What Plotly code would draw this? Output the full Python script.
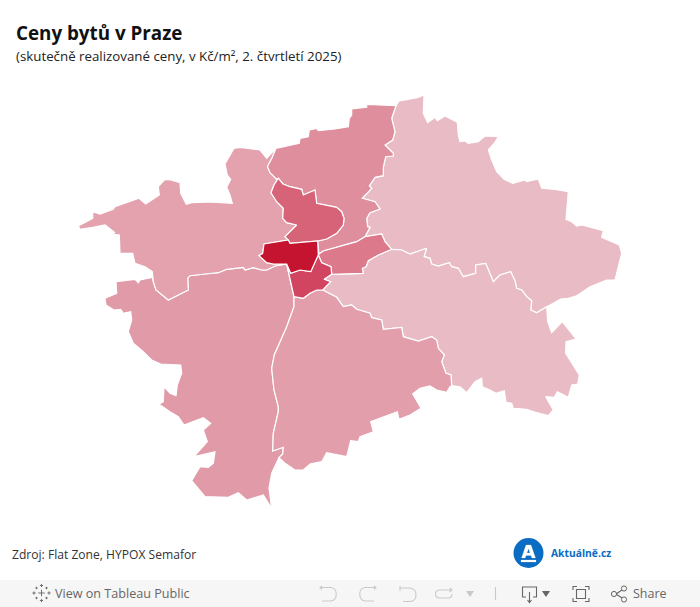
import plotly.graph_objects as go

# Shared district borders (map units)
EDGE_WEST_OUTER = [(78.3,226),(92.7,218.3),(92.7,211.7),(100,214),(113.3,209.3),(115,206.7),(139,198.3),(145.7,204),(159.3,195),(158.3,186.7),(165,179.3),(171,180),(180,182.7),(180.7,193.3),(186.3,204.3),(191.7,202.7),(210,202),(232.3,203.3),(230,195),(226.7,187.3),(230.7,179.3),(227.3,175),(225,164),(227.7,159.3),(234,148.3),(240,147.3),(251.7,149.3),(260,150),(266.7,158.3),(276,148.3)]
EDGE_WEST_NORTH = [(276,148.3),(272,158),(267.5,166.5),(270,172.7),(276.7,179.3)]
EDGE_NORTH_TOP = [(276,148.3),(299.3,143.3),(300,138.3),(308.3,136.7),(309.3,130),(316.7,128.3),(318.3,130.7),(335,129),(348.3,126.7),(349.3,118.3),(351.7,115),(351.7,109),(366.7,107.3),(366.7,104.3),(396,105.7)]
EDGE_NORTH_EAST = [(396,105.7),(391.7,118.3),(395,131.7),(392.7,140),(385,145),(393.3,153.3),(393.3,156),(385.7,156.7),(383.3,167.3),(383.3,175.7),(375,177.3),(369.3,186),(371.7,188.3),(362.3,198.3),(375,201.7),(380,209),(370,212.7),(366.7,218.3),(367.7,226.7),(370,227.3),(365,236.7)]
EDGE_NORTH_MID = [(365,236.7),(356.7,241.7),(323.3,251),(319,254),(317.7,241)]
EDGE_DARK_EAST = [(317.7,241),(326.7,239),(336.7,233.3),(343.3,225),(344,218.3),(341.7,211.7),(336.7,207.3),(326.7,205),(316.7,203.3),(315,190),(303.3,195),(301.7,189.3),(290,186.7),(283,184),(278.3,178.3)]
EDGE_DARK_WEST = [(278.3,178.3),(274,185),(271,192.7),(276.7,201.7),(283.3,208.3),(282.7,218.3),(286.7,222.7),(296.7,225),(285,236.7),(288.3,240)]
EDGE_CENTER_TOP = [(264,244),(288.3,240),(290,243.3),(317.7,241)]
EDGE_CENTER_WEST = [(264,244),(262.7,253.3),(259,255.7),(266.7,262.7),(273.3,264),(286.7,264)]
EDGE_CENTER_SOUTH = [(286.7,264),(290.7,273.3),(300,270),(310.7,271.7),(318.3,255),(317.7,241)]
EDGE_WEST_SW = [(286.7,264),(275,266),(266.7,270),(261.7,270),(253.3,267.7),(245,270),(243.3,267.3),(226.7,269.3),(218.3,272.7),(205,274),(190,275.7),(187.7,278.3),(188.3,290),(168.3,300),(156,290),(153.3,281.7),(152.3,271.7)]
EDGE_WEST_TAIL = [(152.3,271.7),(145,266.7),(135,263.3),(132.7,253.3),(120,253.3),(119.3,235),(111.7,234),(115,232.7),(105,225),(92.7,227.3),(80,229.3)]
EDGE_RED_WEST = [(286.7,264),(288.3,271.7),(294,296.7)]
EDGE_RED_SOUTH = [(294,296.7),(303.3,298.3),(310,293.3),(316.7,290),(322.7,290),(330.7,281.7),(324,279.3),(331.7,274.3)]
EDGE_RED_MID = [(331.7,274.3),(331,266.7),(321.7,262.7),(318.3,255)]
EDGE_MID_TOP = [(319,254),(323.3,251),(356.7,241.7),(365,236.7),(381.7,234),(385,241.7),(391.7,249.3)]
EDGE_MID_SOUTH = [(391.7,249.3),(378.3,255),(368.3,260.7),(366,266.7),(362.3,268.3),(363.3,273.3),(331.7,274.3)]
EDGE_EAST_OUTER = [(396,105.7),(399,101),(408.3,99.3),(418.3,97.3),(424,95),(423.3,113.3),(427.7,122.7),(435,117.3),(437.3,120.7),(445,116),(457.3,122.3),(458.3,135),(460,141.7),(465,141),(468.3,143.3),(478.3,141.7),(485,136),(498.3,136.7),(495,142.3),(488.3,150),(491.7,160),(496.7,171.7),(504,179.3),(512.7,183.3),(525,180),(526.7,181.7),(538.3,179),(541.7,188.3),(555,189.3),(568.3,191.7),(566,219.3),(571.7,221.7),(576.7,226),(581.7,225),(603.3,230.7),(601.7,237.3),(619.3,245),(621.7,253.3),(615,280),(606.7,280),(590,286.7),(576.7,295.7),(568.3,298.3),(560.7,299),(553.3,303.3),(546.7,306.7)]
EDGE_EAST_SE = [(546.7,306.7),(536.7,312.7),(530.7,310),(531.7,300.7),(526.7,296.7),(521.7,290),(516.7,288.3),(515,280.7),(510.7,271.7),(500,275),(493.3,281.7),(485.7,263.3),(475.7,265),(475.7,273.3),(463.3,276.7),(458.3,268.3),(451.7,266.7),(449.3,262.7),(438.3,266),(431.7,264),(430,258.3),(424,256.7),(426.7,248.3),(410,254),(401.7,250),(391.7,249.3)]
EDGE_SE_OUTER = [(546.7,306.7),(547.7,321.7),(551.7,332.7),(562.3,321.7),(576,339),(566,341.7),(565.7,353.3),(579.3,375),(577.7,384),(571.7,385),(568.3,397.3),(557.3,391.7),(554.3,397.3),(545.7,396.7),(553.3,410),(548.3,415.7),(536.7,412.7),(526.7,409.3),(513.3,408.3),(511.7,403.3),(506,402.3),(504.3,390.7),(496,393.3),(490,390),(482.3,386.7),(481.7,378.3),(475,381.7),(466.7,392.7),(460,386.7),(451.7,385.7)]
EDGE_SE_SOUTH = [(451.7,385.7),(451,375),(446,373.3),(441.7,361.7),(444.3,355),(438.3,348.3),(436.7,340),(431.7,336.7),(418.3,341),(403.3,336.7),(401.7,327.3),(383.3,329.3),(381.7,320),(371.7,317.7),(370,313.3),(356.7,309.3),(351.7,305),(343.3,306.7),(336.7,297.3),(322.7,290)]
EDGE_RIVER = [(294,296.7),(294,306.7),(286.7,326.7),(274.3,355),(271.7,368.3),(274,390),(278.3,406.7),(278.3,411.7),(273.3,433.3),(272.7,451),(283.3,447.3),(282.7,454),(279,457.7)]
EDGE_SOUTH_OUTER = [(279,457.7),(285,463.3),(295,470),(303.3,470),(310,464),(321.7,461.7),(326.7,452.7),(346.7,456.7),(350.7,440.7),(358.3,441.7),(360,436.7),(373.3,431.7),(370.7,421.7),(397.3,411.7),(399,419.3),(410,415),(421,408.3),(412.7,394),(420,388.3),(430,386),(436.7,390),(446.7,392.3),(450,386.7),(451.7,385.7)]
EDGE_SW_OUTER = [(152.3,277.5),(140,280),(138.3,282.7),(135,279.3),(116,281.7),(116.7,293.3),(105,298.3),(106,305),(114,310),(120.7,309.3),(123.3,313.3),(130.7,311.7),(131.7,320),(128.3,331.7),(133.3,343.3),(143.3,351.7),(151.7,360),(160.7,364),(180.7,365),(181.7,373.3),(177.3,385),(176,395.7),(170,393.3),(164,386.7),(163.3,401.7),(159,404.3),(170,411.7),(178.3,416.7),(184,425),(203.3,417.7),(210.7,423.3),(203.3,430),(207.3,441.7),(194,456.7),(215,451.7),(213.3,463.3),(208.3,467.3),(200,466.7),(191.7,480.7),(205,496.7),(228.3,497.3),(238.3,492.7),(246.7,500),(263.3,495),(271.7,508.3),(269,488.3),(271.7,473.3),(279,457.7)]


def rev(edge):
    return edge[::-1]


REGION_WEST = EDGE_WEST_OUTER + EDGE_WEST_NORTH + EDGE_DARK_WEST + rev(EDGE_CENTER_TOP)[-2:] + EDGE_CENTER_WEST + EDGE_WEST_SW + EDGE_WEST_TAIL
REGION_NORTH = EDGE_NORTH_TOP + EDGE_NORTH_EAST + EDGE_NORTH_MID + EDGE_DARK_EAST + rev(EDGE_WEST_NORTH)
REGION_DARK = EDGE_DARK_EAST + EDGE_DARK_WEST + [(290,243.3)]
REGION_CENTER = EDGE_CENTER_TOP + rev(EDGE_CENTER_SOUTH) + rev(EDGE_CENTER_WEST)
REGION_RED = EDGE_RED_WEST + EDGE_RED_SOUTH + EDGE_RED_MID + rev(EDGE_CENTER_SOUTH[:-1])
REGION_MID = EDGE_MID_TOP + EDGE_MID_SOUTH + EDGE_RED_MID
REGION_EAST = EDGE_EAST_OUTER + EDGE_EAST_SE + rev(EDGE_MID_TOP[3:]) + rev(EDGE_NORTH_EAST)
REGION_SE = rev(EDGE_EAST_SE) + EDGE_SE_OUTER + EDGE_SE_SOUTH + [(330.7,281.7),(324,279.3)] + rev(EDGE_MID_SOUTH)
REGION_SOUTH = EDGE_RIVER + EDGE_SOUTH_OUTER + EDGE_SE_SOUTH + rev(EDGE_RED_SOUTH[:5])
REGION_SW = EDGE_SW_OUTER + rev(EDGE_RIVER) + rev(EDGE_RED_WEST) + EDGE_WEST_SW[:-1]

REGIONS = [REGION_EAST, REGION_SE, REGION_SW, REGION_SOUTH, REGION_WEST, REGION_NORTH, REGION_MID, REGION_DARK, REGION_RED, REGION_CENTER]
REGION_COLORS = ["#E9BBC4", "#E9BBC4", "#E19AA7", "#E29EAB", "#E3A2AE", "#DE8E9C", "#DC7A8B", "#D66377", "#D14560", "#C5142F"]

TITLE = "Ceny bytů v Praze"
SUBTITLE = "(skutečně realizované ceny, v Kč/m², 2. čtvrtletí 2025)"
SOURCE = "Zdroj: Flat Zone, HYPOX Semafor"
BRAND = "Aktuálně.cz"
TOOLBAR_LEFT = "View on Tableau Public"
TOOLBAR_RIGHT = "Share"

fig = go.Figure()
for ring, colour in zip(REGIONS, REGION_COLORS):
    xs = [p[0] for p in ring] + [ring[0][0]]
    ys = [p[1] for p in ring] + [ring[0][1]]
    fig.add_trace(go.Scatter(x=xs, y=ys, mode="lines", fill="toself", fillcolor=colour,
                             line=dict(color="white", width=1.2), hoverinfo="skip", showlegend=False))

GREY = "#c9c9c9"
DARKG = "#666666"


def icon(path, colour=GREY, width=1.1, fill=None):
    fig.add_shape(type="path", path=path, xref="x", yref="y", layer="above",
                  line=dict(color=colour, width=width), fillcolor=fill)


fig.add_shape(type="rect", x0=0, x1=700, y0=580, y1=607, xref="x", yref="y", layer="above",
              line=dict(width=0), fillcolor="#f6f6f6")

# Tableau mark
for cx, cy, s in [(41.5,593,3.2),(41.5,585.5,1.6),(41.5,600.5,1.6),(34,593,1.6),(49,593,1.6),(36.5,588,1.2),(46.5,588,1.2),(36.5,598,1.2),(46.5,598,1.2)]:
    icon(f"M{cx-s},{cy}L{cx+s},{cy}M{cx},{cy-s}L{cx},{cy+s}", colour="#6f6f6f", width=1)

# undo / redo / revert / refresh
icon("M322,586L320,587.5L322,589.5M320,587.5L331,587.5C338,588 338,600 331,601L322,601")
icon("M374,586L376,587.5L374,589.5M376,587.5L365,587.5C358,588 358,600 365,601L374,601")
icon("M400,586L400,591M400,588L410,588C418,589 418,601 410,601.5L403,601.5")
icon("M450,588L452,590L449.5,592M452,590L440,590C434,590 434,598 440,598L448,598C451,598 452,596 452,594")
icon("M467,591.5L473,591.5L470,596Z", fill=GREY)
icon("M495.5,587L495.5,600")
# download
icon("M526,597L522.5,597L522.5,587L536.5,587L536.5,597L533,597M529.5,592L529.5,602M527.5,600L529.5,602.5L531.5,600", colour=DARKG)
icon("M543,591.5L549,591.5L546,596Z", colour=DARKG, fill=DARKG)
# fullscreen
icon("M573,590L573,586.5L577,586.5M585,586.5L589,586.5L589,590M589,598L589,601.5L585,601.5M577,601.5L573,601.5L573,598M576.5,589.5L585.5,589.5L585.5,598.5L576.5,598.5Z", colour=DARKG)
# share
icon("M616,594L622,590M616,594L622,598", colour=DARKG)
for cx, cy in [(614,594),(624,588.5),(624,599.5)]:
    fig.add_shape(type="circle", x0=cx-2.6, x1=cx+2.6, y0=cy-2.6, y1=cy+2.6, xref="x", yref="y", layer="above",
                  line=dict(color=DARKG, width=1), fillcolor="#f6f6f6")

# brand logo
fig.add_shape(type="circle", x0=513.5, x1=543.5, y0=538, y1=568, xref="x", yref="y", layer="above",
              line=dict(width=0), fillcolor="#0b6cc4")
icon("M526,545L531,545L535.5,558L531.8,558L531,555.5L526,555.5L525.2,558L521.5,558ZM528.5,548.5L527,553L530,553Z", colour="white", width=0.2, fill="white")
icon("M521,560L536,560L536,562L521,562Z", colour="white", width=0.2, fill="white")


def label(x, y, text, size, colour, family="Open Sans", bold=False):
    fig.add_annotation(x=x, y=y, xref="x", yref="y", text=f"<b>{text}</b>" if bold else text,
                       showarrow=False, xanchor="left", yanchor="middle", borderpad=0,
                       font=dict(family=family, size=size, color=colour))


label(15, 33, TITLE, 18.8, "#111111", bold=True)
label(15, 56, SUBTITLE, 13.3, "#222222")
label(11, 554, SOURCE, 12.1, "#333333")
label(549.5, 553, BRAND, 10.3, "#0b6cc4", bold=True)
label(54, 593.5, TOOLBAR_LEFT, 12.6, DARKG)
label(632, 593.5, TOOLBAR_RIGHT, 12.5, DARKG)

fig.update_xaxes(range=[0, 700], visible=False, fixedrange=True)
fig.update_yaxes(range=[607, 0], visible=False, fixedrange=True)
fig.update_layout(width=700, height=607, margin=dict(l=0, r=0, t=0, b=0),
                  paper_bgcolor="white", plot_bgcolor="white", showlegend=False)

fig.write_html("out.html", config={"displayModeBar": False},
               post_script="document.body.style.margin='0';document.documentElement.style.overflow='hidden';")
